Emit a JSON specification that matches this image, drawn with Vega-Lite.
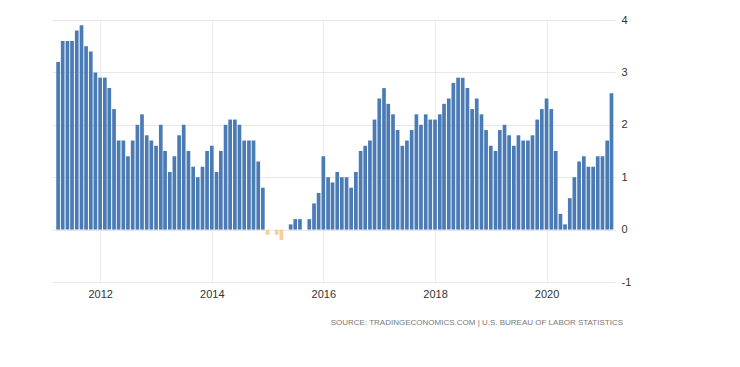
{
  "$schema": "https://vega.github.io/schema/vega-lite/v6.json",
  "width": 563,
  "height": 262,
  "autosize": {"type": "none"},
  "padding": {"left": 52, "top": 20, "right": 125, "bottom": 85},
  "background": "white",
  "config": {"view": {"stroke": null}, "font": "Liberation Sans"},
  "title": {"text": "SOURCE:  TRADINGECONOMICS.COM  |  U.S.  BUREAU  OF  LABOR  STATISTICS", "orient": "bottom", "anchor": "end", "frame": "group", "fontSize": 8, "fontWeight": "normal", "color": "#777777", "offset": 20, "dx": 8},
  "data": {"values": [
    {"date": "2011-04-01", "value": 3.2}, {"date": "2011-05-01", "value": 3.6}, {"date": "2011-06-01", "value": 3.6}, {"date": "2011-07-01", "value": 3.6}, {"date": "2011-08-01", "value": 3.8}, {"date": "2011-09-01", "value": 3.9}, {"date": "2011-10-01", "value": 3.5}, {"date": "2011-11-01", "value": 3.4}, {"date": "2011-12-01", "value": 3.0},
    {"date": "2012-01-01", "value": 2.9}, {"date": "2012-02-01", "value": 2.9}, {"date": "2012-03-01", "value": 2.7}, {"date": "2012-04-01", "value": 2.3}, {"date": "2012-05-01", "value": 1.7}, {"date": "2012-06-01", "value": 1.7}, {"date": "2012-07-01", "value": 1.4}, {"date": "2012-08-01", "value": 1.7}, {"date": "2012-09-01", "value": 2.0}, {"date": "2012-10-01", "value": 2.2}, {"date": "2012-11-01", "value": 1.8}, {"date": "2012-12-01", "value": 1.7},
    {"date": "2013-01-01", "value": 1.6}, {"date": "2013-02-01", "value": 2.0}, {"date": "2013-03-01", "value": 1.5}, {"date": "2013-04-01", "value": 1.1}, {"date": "2013-05-01", "value": 1.4}, {"date": "2013-06-01", "value": 1.8}, {"date": "2013-07-01", "value": 2.0}, {"date": "2013-08-01", "value": 1.5}, {"date": "2013-09-01", "value": 1.2}, {"date": "2013-10-01", "value": 1.0}, {"date": "2013-11-01", "value": 1.2}, {"date": "2013-12-01", "value": 1.5},
    {"date": "2014-01-01", "value": 1.6}, {"date": "2014-02-01", "value": 1.1}, {"date": "2014-03-01", "value": 1.5}, {"date": "2014-04-01", "value": 2.0}, {"date": "2014-05-01", "value": 2.1}, {"date": "2014-06-01", "value": 2.1}, {"date": "2014-07-01", "value": 2.0}, {"date": "2014-08-01", "value": 1.7}, {"date": "2014-09-01", "value": 1.7}, {"date": "2014-10-01", "value": 1.7}, {"date": "2014-11-01", "value": 1.3}, {"date": "2014-12-01", "value": 0.8},
    {"date": "2015-01-01", "value": -0.1}, {"date": "2015-02-01", "value": 0.0}, {"date": "2015-03-01", "value": -0.1}, {"date": "2015-04-01", "value": -0.2}, {"date": "2015-05-01", "value": 0.0}, {"date": "2015-06-01", "value": 0.1}, {"date": "2015-07-01", "value": 0.2}, {"date": "2015-08-01", "value": 0.2}, {"date": "2015-09-01", "value": 0.0}, {"date": "2015-10-01", "value": 0.2}, {"date": "2015-11-01", "value": 0.5}, {"date": "2015-12-01", "value": 0.7},
    {"date": "2016-01-01", "value": 1.4}, {"date": "2016-02-01", "value": 1.0}, {"date": "2016-03-01", "value": 0.9}, {"date": "2016-04-01", "value": 1.1}, {"date": "2016-05-01", "value": 1.0}, {"date": "2016-06-01", "value": 1.0}, {"date": "2016-07-01", "value": 0.8}, {"date": "2016-08-01", "value": 1.1}, {"date": "2016-09-01", "value": 1.5}, {"date": "2016-10-01", "value": 1.6}, {"date": "2016-11-01", "value": 1.7}, {"date": "2016-12-01", "value": 2.1},
    {"date": "2017-01-01", "value": 2.5}, {"date": "2017-02-01", "value": 2.7}, {"date": "2017-03-01", "value": 2.4}, {"date": "2017-04-01", "value": 2.2}, {"date": "2017-05-01", "value": 1.9}, {"date": "2017-06-01", "value": 1.6}, {"date": "2017-07-01", "value": 1.7}, {"date": "2017-08-01", "value": 1.9}, {"date": "2017-09-01", "value": 2.2}, {"date": "2017-10-01", "value": 2.0}, {"date": "2017-11-01", "value": 2.2}, {"date": "2017-12-01", "value": 2.1},
    {"date": "2018-01-01", "value": 2.1}, {"date": "2018-02-01", "value": 2.2}, {"date": "2018-03-01", "value": 2.4}, {"date": "2018-04-01", "value": 2.5}, {"date": "2018-05-01", "value": 2.8}, {"date": "2018-06-01", "value": 2.9}, {"date": "2018-07-01", "value": 2.9}, {"date": "2018-08-01", "value": 2.7}, {"date": "2018-09-01", "value": 2.3}, {"date": "2018-10-01", "value": 2.5}, {"date": "2018-11-01", "value": 2.2}, {"date": "2018-12-01", "value": 1.9},
    {"date": "2019-01-01", "value": 1.6}, {"date": "2019-02-01", "value": 1.5}, {"date": "2019-03-01", "value": 1.9}, {"date": "2019-04-01", "value": 2.0}, {"date": "2019-05-01", "value": 1.8}, {"date": "2019-06-01", "value": 1.6}, {"date": "2019-07-01", "value": 1.8}, {"date": "2019-08-01", "value": 1.7}, {"date": "2019-09-01", "value": 1.7}, {"date": "2019-10-01", "value": 1.8}, {"date": "2019-11-01", "value": 2.1}, {"date": "2019-12-01", "value": 2.3},
    {"date": "2020-01-01", "value": 2.5}, {"date": "2020-02-01", "value": 2.3}, {"date": "2020-03-01", "value": 1.5}, {"date": "2020-04-01", "value": 0.3}, {"date": "2020-05-01", "value": 0.1}, {"date": "2020-06-01", "value": 0.6}, {"date": "2020-07-01", "value": 1.0}, {"date": "2020-08-01", "value": 1.3}, {"date": "2020-09-01", "value": 1.4}, {"date": "2020-10-01", "value": 1.2}, {"date": "2020-11-01", "value": 1.2}, {"date": "2020-12-01", "value": 1.4},
    {"date": "2021-01-01", "value": 1.4}, {"date": "2021-02-01", "value": 1.7}, {"date": "2021-03-01", "value": 2.6}
  ]},
  "mark": {"type": "bar", "size": 3.7},
  "encoding": {
    "x": {
      "field": "date", "type": "temporal",
      "scale": {"domain": ["2011-02-20", "2021-03-24"], "padding": 0},
      "axis": {
        "title": null, "format": "%Y", "domain": false, "ticks": false,
        "values": [{"year": 2012, "month": 1, "date": 1}, {"year": 2014, "month": 1, "date": 1}, {"year": 2016, "month": 1, "date": 1}, {"year": 2018, "month": 1, "date": 1}, {"year": 2020, "month": 1, "date": 1}],
        "grid": true, "gridColor": "#ebebeb", "labelFontSize": 11, "labelColor": "#333333", "labelPadding": 6
      }
    },
    "y": {
      "field": "value", "type": "quantitative",
      "scale": {"domain": [-1, 4], "nice": false, "zero": false},
      "axis": {
        "orient": "right", "title": null, "domain": false, "ticks": false,
        "values": [-1, 0, 1, 2, 3, 4], "grid": true, "gridColor": "#e8e8e8",
        "labelExpr": "'' + datum.value",
        "labelFontSize": 11, "labelColor": "#333333", "labelPadding": 6
      }
    },
    "color": {
      "condition": {"test": "datum.value < 0", "value": "#f5d09a"},
      "value": "#4b7bb5"
    }
  }
}
